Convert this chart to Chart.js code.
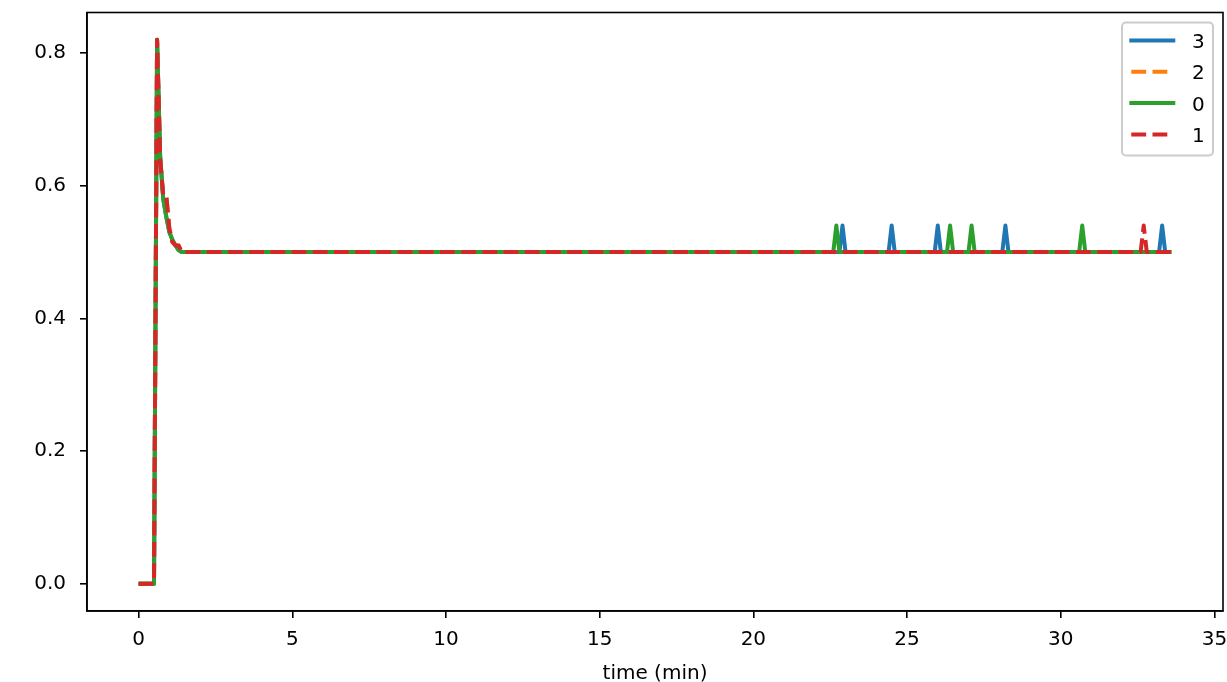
<!DOCTYPE html>
<html>
<head>
<meta charset="utf-8">
<script src="https://cdn.jsdelivr.net/npm/chart.js@4.4.1/dist/chart.umd.min.js"></script>
<style>
  html, body { margin: 0; padding: 0; background: #fff; }
  canvas { display: block; }
</style>
</head>
<body>
<canvas id="chart" width="1227" height="682"></canvas>
<script>
/* ========================
     DATA
  =========================*/
const xTitle = 'time (min)';
const xTicks = [0, 5, 10, 15, 20, 25, 30, 35];
const yTicks = [0.0, 0.2, 0.4, 0.6, 0.8];
const xRange = [-1.68, 35.28];
const yRange = [-0.041, 0.861];

// legend order: 3, 2, 0, 1
const seriesNames = ['3', '2', '0', '1'];

// series "3" (blue)
const time3 = [0, 0.5, 0.6, 0.7, 0.8, 0.9, 1.0, 1.1, 1.2, 1.3, 1.4,
  22.8, 22.9, 23.0, 24.4, 24.5, 24.6, 25.9, 26.0, 26.1,
  28.1, 28.2, 28.3, 33.2, 33.3, 33.4, 33.6];
const value3 = [0, 0, 0.82, 0.645, 0.58, 0.553, 0.53, 0.518, 0.51, 0.503, 0.5,
  0.5, 0.54, 0.5, 0.5, 0.54, 0.5, 0.5, 0.54, 0.5,
  0.5, 0.54, 0.5, 0.5, 0.54, 0.5, 0.5];

// series "2" (orange)
const time2 = [0, 0.5, 0.6, 0.7, 0.8, 0.9, 1.0, 1.1, 1.2, 1.3, 1.4, 33.6];
const value2 = [0, 0, 0.82, 0.64, 0.585, 0.585, 0.535, 0.515, 0.51, 0.51, 0.5, 0.5];

// series "0" (green)
const time0 = [0, 0.5, 0.6, 0.7, 0.8, 0.9, 1.0, 1.1, 1.2, 1.3, 1.4,
  22.6, 22.7, 22.8, 26.3, 26.4, 26.5, 27.0, 27.1, 27.2,
  30.6, 30.7, 30.8, 33.6];
const value0 = [0, 0, 0.82, 0.645, 0.58, 0.553, 0.53, 0.518, 0.51, 0.503, 0.5,
  0.5, 0.54, 0.5, 0.5, 0.54, 0.5, 0.5, 0.54, 0.5,
  0.5, 0.54, 0.5, 0.5];

// series "1" (red)
const time1 = [0, 0.5, 0.6, 0.7, 0.8, 0.9, 1.0, 1.1, 1.2, 1.3, 1.4,
  32.6, 32.7, 32.8, 33.6];
const value1 = [0, 0, 0.82, 0.64, 0.585, 0.585, 0.535, 0.515, 0.51, 0.51, 0.5,
  0.5, 0.54, 0.5, 0.5];

const toPoints = (ts, vs) => ts.map((t, i) => ({ x: t, y: vs[i] }));

/* ========================
     STYLE
  =========================*/
const FONT = 'DejaVu Sans';
const LW = 4;
const DASH = [14.8, 6.4];

function lineSet(label, pts, color, dashed, order) {
  return {
    label: label,
    data: pts,
    borderColor: color,
    backgroundColor: color,
    borderWidth: LW,
    borderDash: dashed ? DASH : [],
    borderCapStyle: 'butt',
    borderJoinStyle: 'round',
    pointRadius: 0,
    tension: 0,
    fill: false,
    order: order
  };
}

const datasets = [
  lineSet(seriesNames[0], toPoints(time3, value3), '#1f77b4', false, 3),
  lineSet(seriesNames[1], toPoints(time2, value2), '#ff7f0e', true, 2),
  lineSet(seriesNames[2], toPoints(time0, value0), '#2ca02c', false, 1),
  lineSet(seriesNames[3], toPoints(time1, value1), '#d62728', true, 0)
];

/* matplotlib-like frame + legend */
const frame = {
  id: 'frame',
  afterDraw(chart) {
    const { ctx, chartArea: a } = chart;
    ctx.save();
    ctx.strokeStyle = '#000';
    ctx.lineWidth = 1.6;
    ctx.strokeRect(a.left, a.top, a.right - a.left, a.bottom - a.top);

    // legend box, upper right
    const w = 91, h = 133;
    const x = a.right - 10 - w, y = a.top + 10;
    ctx.beginPath();
    ctx.roundRect(x, y, w, h, 4);
    ctx.fillStyle = 'rgba(255,255,255,0.8)';
    ctx.fill();
    ctx.strokeStyle = '#cccccc';
    ctx.lineWidth = 2;
    ctx.stroke();

    chart.data.datasets.forEach((ds, i) => {
      const cy = y + 18 + i * 31.3;
      ctx.beginPath();
      ctx.setLineDash(ds.borderDash);
      ctx.lineCap = ds.borderDash.length ? 'butt' : 'square';
      ctx.strokeStyle = ds.borderColor;
      ctx.lineWidth = LW;
      ctx.moveTo(x + 9.3, cy);
      ctx.lineTo(x + 51.3, cy);
      ctx.stroke();
      ctx.setLineDash([]);
      ctx.fillStyle = '#000';
      ctx.font = '20px "' + FONT + '"';
      ctx.textBaseline = 'alphabetic';
      ctx.textAlign = 'left';
      ctx.fillText(ds.label, x + 70, cy + 7.4);
    });
    ctx.restore();
  }
};

new Chart(document.getElementById('chart').getContext('2d'), {
  type: 'line',
  data: { datasets: datasets },
  options: {
    responsive: false,
    animation: false,
    devicePixelRatio: 1,
    layout: { padding: { top: 12.5, right: 4, bottom: 0, left: 0 } },
    scales: {
      x: {
        type: 'linear',
        min: xRange[0],
        max: xRange[1],
        afterBuildTicks: s => { s.ticks = xTicks.map(v => ({ value: v })); },
        afterFit: s => { s.height = 71; s.paddingLeft = 0; s.paddingRight = 0; },
        grid: { drawOnChartArea: false, drawTicks: true, tickLength: 7, color: '#000', lineWidth: 1.6 },
        border: { display: true, color: '#000', width: 1.6 },
        ticks: {
          color: '#000',
          font: { family: FONT, size: 20 },
          padding: 10,
          maxRotation: 0,
          callback: v => String(v)
        },
        title: {
          display: true,
          text: xTitle,
          color: '#000',
          font: { family: FONT, size: 20 },
          padding: { top: 0, bottom: -4 }
        }
      },
      y: {
        type: 'linear',
        min: yRange[0],
        max: yRange[1],
        afterBuildTicks: s => { s.ticks = yTicks.map(v => ({ value: v })); },
        afterFit: s => { s.width = 87; s.paddingTop = 0; s.paddingBottom = 0; },
        grid: { drawOnChartArea: false, drawTicks: true, tickLength: 7, color: '#000', lineWidth: 1.6 },
        border: { display: true, color: '#000', width: 1.6 },
        ticks: {
          color: '#000',
          font: { family: FONT, size: 20 },
          padding: 14,
          callback: v => v.toFixed(1)
        }
      }
    },
    plugins: {
      legend: { display: false },
      tooltip: { enabled: false }
    }
  },
  plugins: [frame]
});
</script>
</body>
</html>
